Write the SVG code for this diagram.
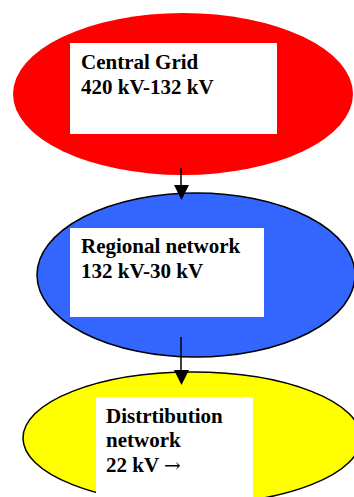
<svg xmlns="http://www.w3.org/2000/svg" width="354" height="497" viewBox="0 0 354 497">
<style>
.lbl{font-family:"Liberation Serif","Times New Roman",serif;font-weight:bold;font-size:21px;fill:#000}
.arr{font-family:"DejaVu Serif",serif;font-weight:normal;font-size:20px}
.box{fill:#fff}
.conn{stroke:#000;stroke-width:1.5;fill:none}
</style>
<rect width="354" height="497" fill="#fff"/>
<g id="central">
<ellipse cx="183" cy="94" rx="170" ry="81" fill="#ff0000"/>
<rect class="box" x="70" y="43" width="207" height="91"/>
<text class="lbl" x="81" y="69">Central Grid</text>
<text class="lbl" x="81" y="94">420 kV-132 kV</text>
</g>
<g id="regional">
<ellipse cx="196" cy="275" rx="159" ry="82" fill="#3366ff" stroke="#000" stroke-width="1.5"/>
<rect class="box" x="70" y="228" width="194" height="89"/>
<text class="lbl" x="81" y="253">Regional network</text>
<text class="lbl" x="81" y="278">132 kV-30 kV</text>
</g>
<g id="distribution">
<ellipse cx="192" cy="438" rx="169" ry="66" fill="#ffff00" stroke="#000" stroke-width="1.5"/>
<rect class="box" x="96" y="397" width="157" height="105"/>
<text class="lbl" x="106" y="423">Distrtibution</text>
<text class="lbl" x="106" y="447">network</text>
<text class="lbl" x="106" y="472">22 kV <tspan class="arr">→</tspan></text>
</g>
<g id="connectors">
<line class="conn" x1="181" y1="168" x2="181" y2="186"/>
<path d="M174,185 L189,185 L181.5,200 Z" fill="#000"/>
<line class="conn" x1="181" y1="337" x2="181" y2="371"/>
<path d="M174,370 L189,370 L181.5,385 Z" fill="#000"/>
</g>
</svg>
